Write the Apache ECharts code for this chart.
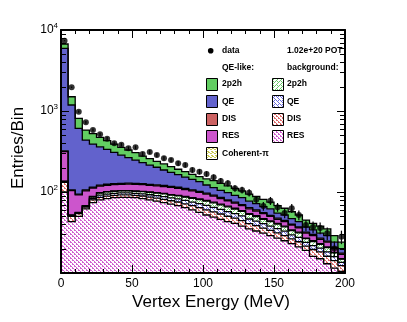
<!DOCTYPE html>
<html><head><meta charset="utf-8">
<script src="https://cdn.jsdelivr.net/npm/echarts@6/dist/echarts.min.js"></script>
<style>html,body{margin:0;padding:0;background:#fff}#c{width:407px;height:322px}</style>
</head><body><div id="c"></div>
<script>
// ---- data ----
const binLow = [0,5,10,15,20,25,30,35,40,45,50,55,60,65,70,75,80,85,90,95,100,105,110,115,120,125,130,135,140,145,150,155,160,165,170,175,180,185,190,195];
const BIN_W = 5;
const dataCounts = [7380,1963,980,725,583,515,455,399,384,346,356,294,312,286,261,248,226,215,187,178,167,152,137,128,111,106,98,80,67,78,65,55,63,52,39,37,36,31,20,28];
const bkgRES  = [100,43,50,62,74,80,83,85,86,86,85,83,80,77,74,71,68,64,60,56,52,49,46,43,41,38,35,33,31,29,27,25,23,21,19,16,15,13,11.5,10.5];
const bkgDIS  = [32,7,4,3,6,6,6,6,6,6,6,6.2,6.5,6.8,7,7,7.3,7.5,7.8,8,8.2,7.9,7.5,7.2,6.6,6.3,5.7,5.4,4.9,4.6,4.2,3.9,3.4,3.3,2.5,3.5,3.2,3.1,2.7,1.8];
const bkgQE   = [2,1,1,1.5,3,5.4,5.4,5.3,5.5,5.5,5.3,5.7,6,6.3,6.6,6.6,6.9,7.2,7.4,7.7,8,7.7,7.5,7.2,6.6,6.3,5.7,5.4,4.7,4.4,4.2,3.9,3.2,3.2,2.4,2.3,2.1,2.1,1.7,1.2];
const bkg2p2h = [1,0.5,0.5,1,3.5,5.7,5.7,5.7,5.5,5.5,5.7,6,6.4,6.7,7.1,7.1,7.5,7.9,8.3,8.7,9.1,8.8,8.5,8.1,7.5,7.1,6.5,6,5.4,5,4.7,4.4,3.8,3.7,2.6,2.7,2.3,2.4,1.8,1.3];
const cohPi   = [1,0.5,0.5,0.5,1.5,1,1,1,1,1,1,1.1,1.1,1.2,1.3,1.3,1.3,1.4,1.5,1.6,1.7,1.6,1.5,1.5,1.3,1.3,1.1,1.2,1,1,0.9,0.8,0.6,0.8,0.5,0.5,0.4,0.4,0.3,0.2];
const sigRES  = [179,52,36,35,24,20,20,20,20,21,21,21,21,21,21,21,20,19,18,17,15,14,12,11,10,9,8,7,7,6,5,5,5,4,4,4,3,3,2,2];
const sigDIS  = [7,2,2,3,3,3.5,3.5,3.5,3.5,3.5,3.5,3.5,3.5,3.5,3.5,3.5,3.5,3.5,3,3,3,2.5,2.5,2,2,2,2,2,1.5,1.5,1.5,1.5,1,1,1,1,1,0.8,0.7,0.6];
const sigQE   = [5618,1080,517,332,276,240,211.5,182.5,158.5,136.5,120.5,103.5,90.5,79.5,66.5,57.5,49.5,42.5,37,32,25,21.5,19.5,18,16,15,13,12,10.5,10.5,7.5,7.5,7,6,5,4,4,4.2,3.3,2.4];
const sig2p2h = [780,314,202,144,134,111,94,82,70,65,58,48,43,37,35,31,27,25,22,21,23,25,23,21,20,18,17,16,15,13,13,11,10,9,8,7,7,6,5,4];
const xTickStep = 50;
const yMinorTicks = [20,30,40,50,60,70,80,90,200,300,400,500,600,700,800,900,2000,3000,4000,5000,6000,7000,8000,9000];
const potText = '1.02e+20 POT';

// ---- styling helpers ----
const X_MIN = 0, X_MAX = 200, Y_MIN = 10, Y_MAX = 10000;
const FONT = '"Liberation Sans", Arial, Helvetica, sans-serif';
function pat(color, rows){
  const h = rows.length, w = rows[0].length;
  const cv = document.createElement('canvas'); cv.width = w; cv.height = h;
  const g = cv.getContext('2d'); g.fillStyle = '#fff'; g.fillRect(0,0,w,h); g.fillStyle = color;
  for (let y=0;y<h;y++) for (let x=0;x<w;x++) if (rows[y][x]==='1') g.fillRect(x,y,1,1);
  return {image: cv, repeat: 'repeat'};
}
const C_2p2h = '#62cd62', C_QE = '#6262cc', C_DIS = '#cc6262', C_RES = '#cc55cc';
const P_RES  = pat('#d060d0', ['1100','0010','0011','1000']);
const P_DIS  = pat('#dc6a6a', ['1100','0010','0011','1000']);
const P_QE   = pat('#6a6ade', ['1010','0100','0010','0001']);
const P_2p2h = pat('#6acc6a', ['1000','0101','0010','0100']);
const P_COH  = pat('#c8c850', ['1100','0011','0000','1001']);

const comps = [
  {vals: bkgRES,  fill: P_RES},
  {vals: bkgDIS,  fill: P_DIS},
  {vals: bkgQE,   fill: P_QE},
  {vals: bkg2p2h, fill: P_2p2h},
  {vals: cohPi,   fill: P_COH},
  {vals: sigRES,  fill: C_RES},
  {vals: sigDIS,  fill: C_DIS},
  {vals: sigQE,   fill: C_QE},
  {vals: sig2p2h, fill: C_2p2h}
];
let base = binLow.map(()=>0);
comps.forEach(c => { c.lo = base.slice(); c.hi = base.map((b,i)=>b + c.vals[i]); base = c.hi; });

function fillItem(params, api){
  const c = comps[params.dataIndex];
  const pts = [];
  for (let i=0;i<binLow.length;i++){
    pts.push(api.coord([binLow[i], c.hi[i]]));
    pts.push(api.coord([binLow[i]+BIN_W, c.hi[i]]));
  }
  for (let i=binLow.length-1;i>=0;i--){
    const lo = Math.max(c.lo[i], Y_MIN);
    pts.push(api.coord([binLow[i]+BIN_W, lo]));
    pts.push(api.coord([binLow[i], lo]));
  }
  return {type:'polygon', shape:{points:pts}, style:{fill:c.fill}};
}
function lineItem(params, api){
  const c = comps[params.dataIndex];
  const pts = [];
  for (let i=0;i<binLow.length;i++){
    pts.push(api.coord([binLow[i], c.hi[i]]));
    pts.push(api.coord([binLow[i]+BIN_W, c.hi[i]]));
  }
  return {type:'polyline', shape:{points:pts}, style:{stroke:'#000', lineWidth:1.3, fill:null}};
}
function minorTickItem(params, api){
  const v = api.value(1);
  const a = api.coord([X_MIN, v]), b = api.coord([X_MAX, v]);
  const y = Math.round(a[1]) + 0.5;
  return {type:'group', children:[
    {type:'line', shape:{x1:a[0], y1:y, x2:a[0]+5, y2:y}, style:{stroke:'#000', lineWidth:1}},
    {type:'line', shape:{x1:b[0], y1:y, x2:b[0]-5, y2:y}, style:{stroke:'#000', lineWidth:1}}
  ]};
}
function errItem(params, api){
  const x = api.value(0), v = api.value(1), e = Math.sqrt(v);
  const a = api.coord([x, Math.max(v-e, Y_MIN)]), b = api.coord([x, v+e]);
  return {type:'line', shape:{x1:a[0], y1:a[1], x2:b[0], y2:b[1]}, style:{stroke:'#000', lineWidth:1.2}};
}

const axisLineStyle = {color:'#000', width:2};
const xAxisCommon = {type:'value', min:X_MIN, max:X_MAX, interval:xTickStep, z:10,
  axisLine:{onZero:false, lineStyle:axisLineStyle},
  axisTick:{inside:true, length:8, lineStyle:{color:'#000', width:1}},
  minorTick:{show:true, splitNumber:5, length:4, lineStyle:{color:'#000', width:1}},
  splitLine:{show:false}, minorSplitLine:{show:false}};
const yAxisCommon = {type:'log', logBase:10, min:Y_MIN, max:Y_MAX, z:10,
  axisLine:{onZero:false, lineStyle:axisLineStyle},
  axisTick:{inside:true, length:8, lineStyle:{color:'#000', width:1}},
  splitLine:{show:false}};

// legend rows
const rowY = [84, 101.3, 118.6, 135.9, 153.2];
const legSig = [['2p2h', C_2p2h], ['QE', C_QE], ['DIS', C_DIS], ['RES', C_RES], ['Coherent-\u03c0', P_COH]];
const legBkg = [['2p2h', P_2p2h], ['QE', P_QE], ['DIS', P_DIS], ['RES', P_RES]];
const legFont = 'bold 8.5px ' + FONT;
const graphic = [];
function gText(t, x, y){ graphic.push({type:'text', x:x, y:y, z:100, style:{text:t, font:legFont, fill:'#000', verticalAlign:'middle', align:'left'}}); }
graphic.push({type:'circle', z:100, shape:{cx:210.7, cy:50.7, r:2.8}, style:{fill:'#000'}});
gText('data', 222, 50.7);
gText(potText, 287, 50.7);
gText('QE-like:', 222, 67.7);
gText('background:', 287, 67.7);
legSig.forEach((r,i)=>{
  graphic.push({type:'rect', z:100, shape:{x:206.5, y:Math.round(rowY[i]-6)+0.5, width:11, height:12}, style:{fill:r[1], stroke:'#000', lineWidth:1}});
  gText(r[0], 222, rowY[i]);
});
legBkg.forEach((r,i)=>{
  graphic.push({type:'rect', z:100, shape:{x:272.5, y:Math.round(rowY[i]-6)+0.5, width:11, height:12}, style:{fill:r[1], stroke:'#000', lineWidth:1}});
  gText(r[0], 287, rowY[i]);
});
// axis titles
graphic.push({type:'text', x:211, y:302, z:100, style:{text:'Vertex Energy (MeV)', font:'17px ' + FONT, fill:'#000', align:'center', verticalAlign:'middle'}});
graphic.push({type:'text', x:18, y:148, rotation:Math.PI/2, z:100, style:{text:'Entries/Bin', font:'17px ' + FONT, fill:'#000', align:'center', verticalAlign:'middle'}});

const option = {
  animation: false,
  backgroundColor: '#fff',
  grid: {left:61, right:62, top:30, bottom:49, containLabel:false, outerBoundsMode:'none'},
  xAxis: [
    Object.assign({}, xAxisCommon, {position:'bottom',
      axisLabel:{fontSize:12, color:'#000', margin:5, fontFamily:FONT}}),
    Object.assign({}, xAxisCommon, {position:'top', axisLabel:{show:false}})
  ],
  yAxis: [
    Object.assign({}, yAxisCommon, {position:'left',
      axisLabel:{margin:3, color:'#000', fontFamily:FONT,
        formatter: v => { if (v < 50) return ''; return '{b|10}{s|' + Math.round(Math.log10(v)) + '}'; },
        rich:{b:{fontSize:12, lineHeight:16, fontFamily:FONT, color:'#000'},
              s:{fontSize:8, lineHeight:8, verticalAlign:'top', fontFamily:FONT, color:'#000'}}}}),
    Object.assign({}, yAxisCommon, {position:'right', axisLabel:{show:false}})
  ],
  graphic: graphic,
  series: [
    {type:'custom', silent:true, renderItem:fillItem, data:comps.map(()=>[X_MIN, Y_MIN]), z:2},
    {type:'custom', silent:true, renderItem:lineItem, data:comps.map(()=>[X_MIN, Y_MIN]), z:3},
    {type:'custom', silent:true, renderItem:minorTickItem, data:yMinorTicks.map(v=>[X_MIN, v]), z:11},
    {type:'custom', silent:true, renderItem:errItem, data:dataCounts.map((v,i)=>[binLow[i]+BIN_W/2, v]), z:5},
    {type:'scatter', silent:true, symbol:'circle', symbolSize:6, itemStyle:{color:'#000'},
      data:dataCounts.map((v,i)=>[binLow[i]+BIN_W/2, v]), z:6}
  ]
};
const chart = echarts.init(document.getElementById('c'), null, {renderer:'canvas'});
chart.setOption(option);
</script></body></html>
